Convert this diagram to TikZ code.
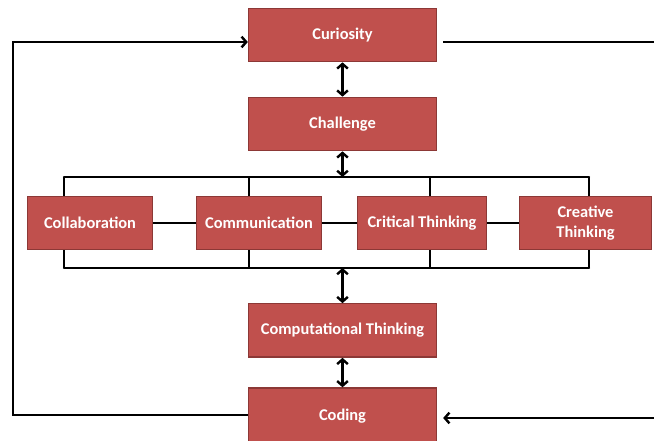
\documentclass[tikz,border=0pt]{standalone}
\usepackage{fontspec}
\newfontfamily\boxfont{Carlito}
\usetikzlibrary{positioning, arrows.meta}
\definecolor{boxred}{RGB}{192,80,77}
\definecolor{boxedge}{RGB}{140,56,54}

\tikzset{
  box/.style={draw=boxedge, line width=1pt, fill=boxred, text=white,
    font=\boxfont\bfseries\fontsize{12.3}{15}\selectfont,
    minimum width=141pt, minimum height=40pt, inner sep=2pt, align=center},
  link/.style={line width=1.8pt, black},
  twoway/.style={link, {Straight Barb[length=3.5pt,width=8pt]}-{Straight Barb[length=3.5pt,width=8pt]}},
  oneway/.style={link, -{Straight Barb[length=3.5pt,width=8pt]}}
}

\begin{document}
\begin{tikzpicture}[x=0.75pt, y=-0.75pt]
    \useasboundingbox (0,0) rectangle (654,441);

    % Main column
    \node[box] (Curiosity) at (342.5,35) {Curiosity};
    \node[box] (Challenge) at (342.5,124) {Challenge};
    \node[box] (Computational) at (342.5,330.5) {Computational Thinking};
    \node[box, minimum height=42pt] (Coding) at (342.5,416) {Coding};

    % Skills row
    \node[box, minimum width=94pt] (Collaboration) at (90,223) {Collaboration};
    \node[box, minimum width=94pt] (Communication) at (259,223) {Communication};
    \node[box, minimum width=97pt] (Critical) at (422,223) {Critical Thinking};
    \node[box, minimum width=99pt] (Creative) at (585.5,223) {Creative\\Thinking};

    % Buses above and below the row
    \foreach \n/\x in {Collaboration/64, Communication/249, Critical/430, Creative/589} {
        \coordinate (top\n) at (\x,177);
        \coordinate (bot\n) at (\x,268);
        \draw[link] (top\n) -- (top\n |- \n.north);
        \draw[link] (bot\n) -- (bot\n |- \n.south);
    }
    \draw[link, line cap=round] (topCollaboration) -- (topCreative);
    \draw[link, line cap=round] (botCollaboration) -- (botCreative);

    % Links inside the row
    \draw[link] (Collaboration) -- (Communication);
    \draw[link] (Communication) -- (Critical);
    \draw[link] (Critical) -- (Creative);

    % Two-way arrows down the column
    \draw[twoway] (Curiosity) -- (Challenge);
    \draw[twoway] (Challenge) -- (Challenge.south |- topCollaboration);
    \draw[twoway] (Computational.north |- botCollaboration) -- (Computational);
    \draw[twoway] (Computational) -- (Coding);

    % Feedback loops
    \coordinate (loopL) at (13,200);
    \coordinate (outR) at (654,42);
    \coordinate (inR) at (654,418);
    \draw[oneway] ([yshift=0.75pt]Coding.west) -| (loopL) |- ([yshift=-5.25pt]Curiosity.west);
    \draw[link, shorten <=4.5pt] ([yshift=-5.25pt]Curiosity.east) -- (outR);
    \draw[oneway, shorten >=4.5pt] (inR) -- (Coding.east |- inR);
\end{tikzpicture}
\end{document}
